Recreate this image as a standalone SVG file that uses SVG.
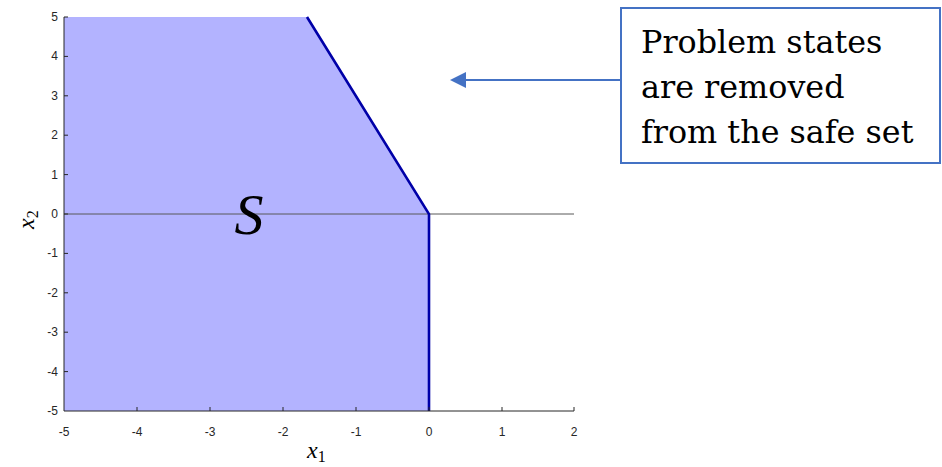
<svg xmlns="http://www.w3.org/2000/svg" width="942" height="467" viewBox="0 0 942 467">
<style>
.tick{font-family:"Liberation Sans",Arial,sans-serif;font-size:12px;fill:#262626}
.ax{stroke:#262626;stroke-width:1;fill:none}
.math{font-family:"Liberation Serif","Times New Roman",serif;font-style:italic;fill:#000}
.call{font-family:"DejaVu Serif","Liberation Serif",serif;font-size:31.8px;fill:#000}
</style>
<rect width="942" height="467" fill="#fff"/>
<g id="plot">
<polygon points="64,17 307,17 429,214 429,411 64,411" fill="#B3B3FF"/>
<line x1="64" y1="214" x2="574" y2="214" stroke="#595959" stroke-width="1"/>
<polyline points="307,17 429,214 429,411" fill="none" stroke="#0000A8" stroke-width="2.6"/>
<g class="ax">
<line x1="64" y1="17" x2="64" y2="411"/>
<line x1="64" y1="411" x2="574" y2="411"/>
<path d="M64,17h4M64,56.4h4M64,95.8h4M64,135.2h4M64,174.6h4M64,214h4M64,253.4h4M64,292.8h4M64,332.2h4M64,371.6h4"/>
<path d="M137,411v-4M210,411v-4M283,411v-4M356,411v-4M429,411v-4M502,411v-4M574,411v-4"/>
</g>
<g class="tick" text-anchor="end">
<text x="58" y="21">5</text>
<text x="58" y="60.4">4</text>
<text x="58" y="99.8">3</text>
<text x="58" y="139.2">2</text>
<text x="58" y="178.6">1</text>
<text x="58" y="218">0</text>
<text x="58" y="257.4">-1</text>
<text x="58" y="296.8">-2</text>
<text x="58" y="336.2">-3</text>
<text x="58" y="375.6">-4</text>
<text x="58" y="415">-5</text>
</g>
<g class="tick" text-anchor="middle">
<text x="64" y="436">-5</text>
<text x="137" y="436">-4</text>
<text x="210" y="436">-3</text>
<text x="283" y="436">-2</text>
<text x="356" y="436">-1</text>
<text x="429" y="436">0</text>
<text x="502" y="436">1</text>
<text x="574" y="436">2</text>
</g>
<text class="math" x="307" y="458" font-size="24">x<tspan font-style="normal" font-size="16" dy="4">1</tspan></text>
<text class="math" transform="translate(34,229) rotate(-90)" font-size="24">x<tspan font-style="normal" font-size="16" dy="4">2</tspan></text>
<text class="math" x="249" y="234" font-size="58" text-anchor="middle">S</text>
</g>
<g id="connectors">
<line x1="621" y1="80" x2="464" y2="80" stroke="#4472C4" stroke-width="2"/>
<polygon points="450,80 466,72 466,88" fill="#4472C4"/>
</g>
<g id="callout">
<rect x="621" y="8" width="319" height="155" fill="#fff" stroke="#4472C4" stroke-width="2"/>
<text class="call" x="641" y="53">Problem states</text>
<text class="call" x="641" y="98">are removed</text>
<text class="call" x="641" y="143">from the safe set</text>
</g>
</svg>
